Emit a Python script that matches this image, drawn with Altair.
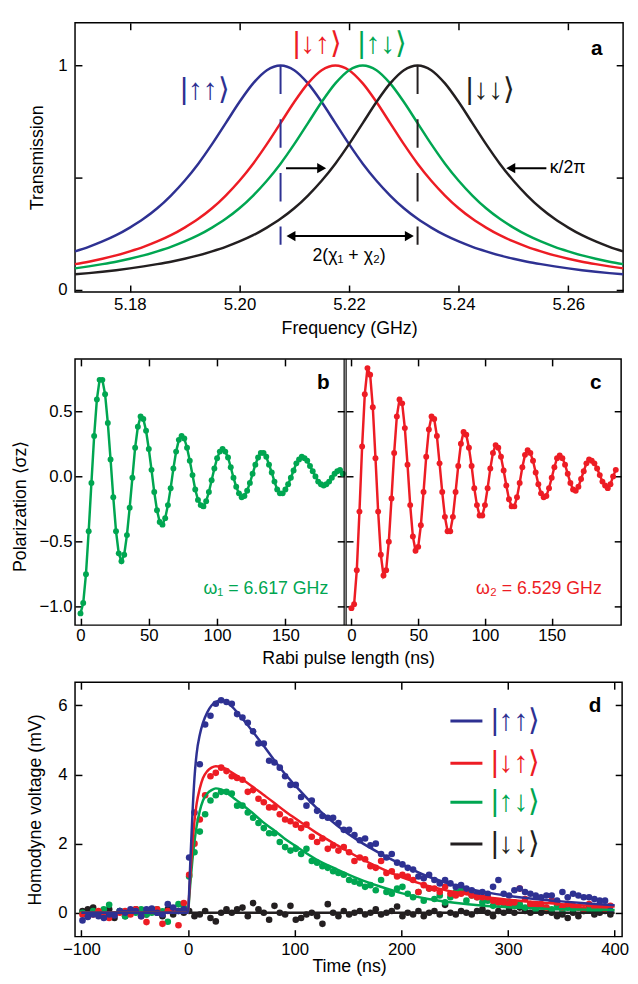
import altair as alt
import pandas as pd

BLUE, RED, GREEN, BLACK = "#2e3192", "#ed1c24", "#00a651", "#231f20"
FONT = "Liberation Sans"
KET_FONT = "Liberation Sans"
TICK = 7

KETS = ["|↑↑⟩", "|↓↑⟩", "|↑↓⟩", "|↓↓⟩"]
COLORS = [BLUE, RED, GREEN, BLACK]

# ---------------- panel a : transmission spectra ----------------
FREQ = [5.17, 5.1725, 5.175, 5.1775, 5.18, 5.1825, 5.185, 5.1875, 5.19, 5.1925,
        5.195, 5.1975, 5.2, 5.2025, 5.205, 5.2075, 5.21, 5.2125, 5.215, 5.2175,
        5.22, 5.2225, 5.225, 5.2275, 5.23, 5.2325, 5.235, 5.2375, 5.24, 5.2425,
        5.245, 5.2475, 5.25, 5.2525, 5.255, 5.2575, 5.26, 5.2625, 5.265, 5.2675, 5.27]
TR_UU = [0.171, 0.191, 0.215, 0.243, 0.277, 0.316, 0.363, 0.420, 0.486, 0.562, 0.649,
         0.743, 0.837, 0.920, 0.979, 1.000, 0.979, 0.920, 0.837, 0.743, 0.649, 0.562,
         0.486, 0.420, 0.363, 0.316, 0.277, 0.243, 0.215, 0.191, 0.171, 0.153, 0.138,
         0.125, 0.114, 0.104, 0.095, 0.087, 0.080, 0.074, 0.069]
TR_DU = [0.114, 0.125, 0.138, 0.153, 0.171, 0.191, 0.215, 0.243, 0.277, 0.316, 0.363,
         0.420, 0.486, 0.562, 0.649, 0.743, 0.837, 0.920, 0.979, 1.000, 0.979, 0.920,
         0.837, 0.743, 0.649, 0.562, 0.486, 0.420, 0.363, 0.316, 0.277, 0.243, 0.215,
         0.191, 0.171, 0.153, 0.138, 0.125, 0.114, 0.104, 0.095]
TR_UD = [0.095, 0.104, 0.114, 0.125, 0.138, 0.153, 0.171, 0.191, 0.215, 0.243, 0.277,
         0.316, 0.363, 0.420, 0.486, 0.562, 0.649, 0.743, 0.837, 0.920, 0.979, 1.000,
         0.979, 0.920, 0.837, 0.743, 0.649, 0.562, 0.486, 0.420, 0.363, 0.316, 0.277,
         0.243, 0.215, 0.191, 0.171, 0.153, 0.138, 0.125, 0.114]
TR_DD = [0.069, 0.074, 0.080, 0.087, 0.095, 0.104, 0.114, 0.125, 0.138, 0.153, 0.171,
         0.191, 0.215, 0.243, 0.277, 0.316, 0.363, 0.420, 0.486, 0.562, 0.649, 0.743,
         0.837, 0.920, 0.979, 1.000, 0.979, 0.920, 0.837, 0.743, 0.649, 0.562, 0.486,
         0.420, 0.363, 0.316, 0.277, 0.243, 0.215, 0.191, 0.171]
A_XTICKS = [5.18, 5.20, 5.22, 5.24, 5.26]
A_YTICKS = [0, 0.5, 1]
A_KET_X = [5.1937, 5.2142, 5.2261, 5.2458]
A_KET_Y = [0.89, 1.093, 1.093, 0.89]
A_DASH_X = [5.2075, 5.2325]
A_DASH_TOP = [1.0, 1.0]
A_DASH_BOT = [0.2, 0.2]
A_DASH_COL = [BLUE, BLACK]
A_ARROW_X1 = [5.2085, 5.2495, 5.2094]
A_ARROW_X2 = [5.2150, 5.2560, 5.2310]
A_ARROW_Y = [0.542, 0.542, 0.239]
A_HEAD_X = [5.2150, 5.2495, 5.2094, 5.2310]
A_HEAD_Y = [0.542, 0.542, 0.239, 0.239]
A_HEAD_SHAPE = ["triangle-right", "triangle-left", "triangle-left", "triangle-right"]

# ---------------- panels b, c : Rabi oscillations ----------------
RABI_T1 = [0, 2, 4, 6, 8, 10, 12, 14, 16, 18, 20, 22, 24, 26, 28, 30, 32, 34, 36, 38,
           40, 42, 44, 46, 48, 50, 52, 54, 56, 58, 60, 62, 64, 66, 68, 70, 72, 74, 76, 78,
           80, 82, 84, 86, 88, 90, 92, 94, 96, 98, 100, 102, 104, 106, 108, 110, 112, 114,
           116, 118, 120, 122, 124, 126, 128, 130, 132, 134, 136, 138, 140, 142, 144, 146,
           148, 150, 152, 154, 156, 158, 160, 162, 164, 166, 168, 170, 172, 174, 176, 178,
           180, 182, 184, 186, 188, 190, 192]
POL1 = [-1.05, -0.97, -0.75, -0.42, -0.05, 0.31, 0.59, 0.74, 0.74, 0.63, 0.41, 0.13,
        -0.16, -0.42, -0.59, -0.65, -0.60, -0.45, -0.24, -0.01, 0.22, 0.38, 0.46, 0.44,
        0.35, 0.21, 0.05, -0.12, -0.26, -0.35, -0.37, -0.32, -0.22, -0.09, 0.06, 0.19,
        0.28, 0.31, 0.29, 0.22, 0.12, 0.01, -0.10, -0.18, -0.22, -0.23, -0.19, -0.12,
        -0.03, 0.06, 0.14, 0.19, 0.21, 0.19, 0.145, 0.07, -0.01, -0.08, -0.13, -0.16,
        -0.15, -0.11, -0.05, 0.02, 0.09, 0.145, 0.18, 0.18, 0.15, 0.09, 0.03, -0.04,
        -0.10, -0.13, -0.13, -0.10, -0.06, -0.01, 0.045, 0.10, 0.13, 0.15, 0.14, 0.12,
        0.08, 0.04, 0.00, -0.04, -0.06, -0.07, -0.06, -0.04, -0.01, 0.02, 0.04, 0.05, 0.02]
RABI_T2 = [0, 2, 4, 6, 8, 10, 12, 14, 16, 18, 20, 22, 24, 26, 28, 30, 32, 34, 36, 38,
           40, 42, 44, 46, 48, 50, 52, 54, 56, 58, 60, 62, 64, 66, 68, 70, 72, 74, 76, 78,
           80, 82, 84, 86, 88, 90, 92, 94, 96, 98, 100, 102, 104, 106, 108, 110, 112, 114,
           116, 118, 120, 122, 124, 126, 128, 130, 132, 134, 136, 138, 140, 142, 144, 146,
           148, 150, 152, 154, 156, 158, 160, 162, 164, 166, 168, 170, 172, 174, 176, 178,
           180, 182, 184, 186, 188, 190, 192, 194, 196, 198]
POL2 = [-1.01, -0.98, -0.72, -0.27, 0.23, 0.63, 0.83, 0.78, 0.53, 0.14, -0.27, -0.60,
        -0.76, -0.72, -0.50, -0.17, 0.18, 0.46, 0.59, 0.56, 0.37, 0.09, -0.22, -0.46,
        -0.57, -0.54, -0.375, -0.12, 0.15, 0.36, 0.46, 0.44, 0.31, 0.10, -0.12, -0.31,
        -0.42, -0.42, -0.31, -0.12, 0.08, 0.25, 0.34, 0.32, 0.22, 0.08, -0.09, -0.22,
        -0.30, -0.30, -0.22, -0.09, 0.06, 0.18, 0.24, 0.22, 0.15, 0.045, -0.07, -0.175,
        -0.23, -0.23, -0.16, -0.05, 0.07, 0.165, 0.20, 0.18, 0.12, 0.03, -0.06, -0.13,
        -0.16, -0.15, -0.09, -0.01, 0.07, 0.14, 0.16, 0.14, 0.09, 0.02, -0.05, -0.10,
        -0.11, -0.08, -0.02, 0.04, 0.10, 0.13, 0.12, 0.10, 0.06, 0.01, -0.04, -0.07,
        -0.09, -0.06, 0.00, 0.05]
BC_XTICKS = [0, 50, 100, 150]
BC_YTICKS = [-1.0, -0.5, 0.0, 0.5]

# ---------------- panel d : homodyne voltage ----------------
TIME = [-99, -94, -89, -84, -79, -74, -69, -64, -59, -54, -49, -44, -39, -34, -29, -24,
        -19, -14, -9, -4, 1, 6, 11, 16, 21, 26, 31, 36, 41, 46, 51, 56, 61, 66, 71, 76,
        81, 86, 91, 96, 101, 106, 111, 116, 121, 126, 131, 136, 141, 146, 151, 156, 161,
        166, 171, 176, 181, 186, 191, 196, 201, 206, 211, 216, 221, 226, 231, 236, 241,
        246, 251, 256, 261, 266, 271, 276, 281, 286, 291, 296, 301, 306, 311, 316, 321,
        326, 331, 336, 341, 346, 351, 356, 361, 366, 371, 376, 381, 386, 391, 396]
V_UU = [-0.22, -0.12, -0.05, -0.1, -0.15, -0.05, -0.08, 0.05, 0.0, 0.1, 0.05, -0.1, 0.1,
        0.12, 0.0, -0.05, 0.25, 0.15, 0.05, 0.1,
        1.6, 2.9, 4.3, 5.45, 5.7, 6.05, 6.15, 6.1, 6.05, 5.75, 5.65, 5.5, 5.25, 4.9, 4.9,
        4.4, 4.35, 4.2, 3.95, 3.7, 3.7, 3.35, 3.1, 3.25, 2.95, 2.8, 2.75, 2.75, 2.6, 2.4,
        2.4, 2.25, 2.1, 2.15, 1.95, 2.0, 1.7, 1.6, 1.7, 1.45, 1.4, 1.3, 1.25, 1.05, 1.0,
        1.1, 0.95, 0.85, 0.95, 0.85, 0.75, 0.8, 0.7, 0.65, 0.55, 0.6, 0.55, 0.75, 0.95,
        0.55, 0.5, 0.65, 0.7, 0.6, 0.55, 0.5, 0.45, 0.5, 0.5, 0.35, 0.6, 0.45, 0.55, 0.5,
        0.45, 0.45, 0.4, 0.35, 0.35, 0.06]
V_DU = [-0.05, -0.1, -0.05, 0.05, -0.1, -0.15, -0.05, 0.0, 0.05, -0.05, 0.1, -0.1, -0.27,
        0.05, 0.1, -0.32, 0.05, 0.1, -0.36, 0.28,
        1.1, 2.0, 2.7, 3.4, 3.95, 4.05, 4.2, 4.1, 3.95, 3.9, 3.85, 3.5, 3.55, 3.3, 3.2,
        3.05, 3.05, 2.85, 2.7, 2.65, 2.55, 2.45, 2.55, 2.2, 2.05, 2.15, 1.85, 1.95, 1.8,
        1.9, 1.75, 1.5, 1.6, 1.55, 1.35, 1.3, 1.5, 1.15, 1.2, 1.05, 1.1, 1.05, 0.95, 0.6,
        0.8, 0.7, 0.7, 0.6, 0.75, 0.55, 0.5, 0.55, 0.6, 0.5, 0.45, 0.45, 0.45, 0.35, 0.3,
        0.3, 0.25, 0.3, 0.7, 0.4, 0.25, 0.2, 0.25, 0.15, 0.35, 0.3, 0.15, 0.25, 0.2, 0.15,
        0.1, 0.25, 0.15, 0.2, 0.1, 0.2]
V_UD = [0.0, -0.05, 0.05, 0.0, 0.1, 0.23, -0.05, 0.05, -0.1, 0.05, 0.0, 0.1, -0.05, 0.0,
        0.1, 0.04, -0.26, 0.1, 0.25, 0.15,
        1.05, 1.75, 2.35, 2.85, 3.25, 3.4, 3.5, 3.5, 3.45, 3.1, 3.1, 2.9, 2.75, 2.6, 2.45,
        2.3, 2.3, 2.05, 1.9, 1.8, 1.85, 1.7, 1.85, 1.5, 1.45, 1.35, 1.3, 1.2, 1.15, 1.1,
        0.95, 0.9, 0.85, 0.75, 0.8, 0.65, 0.95, 0.6, 0.55, 0.7, 0.75, 0.55, 0.45, 0.6,
        0.35, 0.7, 0.4, 0.5, 0.3, 0.45, 0.6, 0.65, 0.35, 0.5, 0.45, 0.3, 0.35, 0.2, 0.3,
        0.25, 0.3, 0.2, 0.25, 0.15, 0.25, 0.1, 0.2, 0.15, 0.1, 0.2, 0.05, 0.15, 0.1, 0.15,
        0.05, 0.1, 0.05, 0.1, 0.1, 0.05]
V_DD = [0.05, 0.1, 0.15, 0.0, -0.05, 0.1, -0.15, 0.05, -0.1, 0.05, 0.1, 0.0, -0.05, 0.05,
        0.0, -0.1, 0.1, -0.05, 0.05, 0.0,
        0.05, -0.1, -0.05, 0.05, -0.15, -0.25, 0.0, 0.1, 0.0, 0.1, 0.15, -0.1, 0.28, 0.1,
        0.0, -0.2, 0.2, 0.0, -0.05, 0.2, -0.2, -0.15, -0.05, 0.0, -0.1, -0.32, 0.25, 0.0,
        -0.1, 0.05, -0.05, 0.0, 0.05, -0.05, 0.0, 0.1, -0.05, 0.0, 0.05, 0.18, -0.1, 0.0,
        -0.05, 0.05, -0.1, 0.0, 0.05, -0.05, 0.23, 0.0, -0.05, 0.05, 0.0, -0.05, 0.05,
        0.1, 0.0, -0.1, 0.05, 0.0, 0.1, 0.0, 0.15, 0.05, 0.0, 0.1, 0.0, 0.05, 0.0, -0.1,
        -0.05, -0.15, 0.0, -0.1, 0.05, 0.2, -0.05, 0.0, 0.05, -0.05]
FIT_T = [-100, 0, 1, 2, 4, 6, 8, 11, 14, 18, 22, 26, 30, 35, 40, 50, 60, 70, 80, 90, 100,
         120, 140, 160, 180, 200, 225, 250, 275, 300, 325, 350, 375, 400]
FIT_UU = [0, 0, 0.6, 1.4, 2.8, 3.9, 4.6, 5.15, 5.5, 5.8, 6.0, 6.1, 6.15, 6.12, 6.0, 5.65,
          5.27, 4.87, 4.45, 4.05, 3.7, 3.05, 2.52, 2.08, 1.72, 1.4, 1.05, 0.8, 0.62, 0.49,
          0.4, 0.33, 0.27, 0.22]
FIT_DU = [0, 0, 0.5, 1.0, 1.95, 2.65, 3.15, 3.6, 3.9, 4.1, 4.2, 4.24, 4.23, 4.17, 4.08,
          3.88, 3.66, 3.43, 3.2, 2.96, 2.74, 2.32, 1.95, 1.6, 1.3, 1.03, 0.78, 0.6, 0.47,
          0.38, 0.31, 0.25, 0.21, 0.18]
FIT_UD = [0, 0, 0.4, 0.8, 1.5, 2.05, 2.5, 2.95, 3.25, 3.45, 3.55, 3.6, 3.58, 3.5, 3.39,
          3.15, 2.9, 2.63, 2.4, 2.16, 1.95, 1.55, 1.25, 0.98, 0.76, 0.57, 0.4, 0.29, 0.21,
          0.16, 0.13, 0.1, 0.09, 0.08]
FIT_DD = [0] * 34
D_XTICKS = [-100, 0, 100, 200, 300, 400]
D_YTICKS = [0, 2, 4, 6]
LEG_X1, LEG_X2, LEG_TX = 246, 276, 284
LEG_Y = [5.55, 4.33, 3.2, 1.99]


def sc(dom, rng=None):
    if rng is None:
        return alt.Scale(domain=dom, nice=False, zero=False)
    return alt.Scale(domain=dom, range=rng, nice=False, zero=False)


def ax(orient, values, labels=True, title=None, offset=-TICK, **kw):
    d = dict(orient=orient, values=values, offset=offset, tickSize=TICK, domain=False,
             grid=False, labels=labels, ticks=True, title=title)
    d.update(kw)
    return alt.Axis(**d)


def txt(x, y, t, xs, ys, font=FONT, **mk):
    return alt.Chart(pd.DataFrame({"x": [x], "y": [y], "t": [t]})).mark_text(
        baseline="middle", font=font, **mk).encode(
        x=alt.X("x:Q", scale=xs, axis=None), y=alt.Y("y:Q", scale=ys, axis=None), text="t:N")


# ---------- panel a ----------
xa, ya = sc([5.17, 5.27]), sc([-0.01, 1.19])
dfa = pd.DataFrame({
    "f": FREQ * 4,
    "T": TR_UU + TR_DU + TR_UD + TR_DD,
    "s": sum([[k] * len(FREQ) for k in KETS], []),
})
ccol = alt.Color("s:N", scale=alt.Scale(domain=KETS, range=COLORS), legend=None)
a_lines = alt.Chart(dfa).mark_line(strokeWidth=2.5, interpolate="monotone").encode(
    x=alt.X("f:Q", scale=xa, axis=ax("bottom", A_XTICKS, title="Frequency (GHz)", format=".2f",
                                      labelPadding=5, titleX=278, titleY=44,
                                      titleBaseline="middle", titleAlign="center")),
    y=alt.Y("T:Q", scale=ya, axis=ax("left", A_YTICKS, title="Transmission", format="~g",
                                      labelExpr="datum.value == 0.5 ? '' : datum.label",
                                      labelPadding=8, titleX=-45, titleY=136.5, titleAngle=270,
                                      titleBaseline="middle", titleAlign="center")),
    color=ccol,
)
a_dash = alt.Chart(pd.DataFrame({"x": A_DASH_X, "y": A_DASH_TOP, "y2": A_DASH_BOT,
                                 "c": A_DASH_COL})).mark_rule(strokeWidth=2, strokeDash=[29, 25.5]).encode(
    x=alt.X("x:Q", scale=xa, axis=None), y=alt.Y("y:Q", scale=ya, axis=None), y2="y2:Q",
    color=alt.Color("c:N", scale=None))
a_arrows = alt.Chart(pd.DataFrame({"x": A_ARROW_X1, "x2": A_ARROW_X2, "y": A_ARROW_Y})).mark_rule(
    strokeWidth=2, color="black").encode(
    x=alt.X("x:Q", scale=xa, axis=None), x2="x2:Q", y=alt.Y("y:Q", scale=ya, axis=None))
a_heads = alt.Chart(pd.DataFrame({"x": A_HEAD_X, "y": A_HEAD_Y, "sh": A_HEAD_SHAPE})).mark_point(
    filled=True, size=110, color="black", opacity=1).encode(
    x=alt.X("x:Q", scale=xa, axis=None), y=alt.Y("y:Q", scale=ya, axis=None),
    shape=alt.Shape("sh:N", scale=None))
a_kets = alt.Chart(pd.DataFrame({"x": A_KET_X, "y": A_KET_Y, "t": KETS, "c": COLORS})).mark_text(
    fontSize=30, align="center", baseline="middle", font=KET_FONT).encode(
    x=alt.X("x:Q", scale=xa, axis=None), y=alt.Y("y:Q", scale=ya, axis=None), text="t:N",
    color=alt.Color("c:N", scale=None))
a_ticks = alt.Chart(dfa).mark_point(opacity=0).encode(
    x=alt.X("f:Q", scale=xa, axis=ax("top", A_XTICKS, labels=False)),
    y=alt.Y("T:Q", scale=ya, axis=ax("right", A_YTICKS, labels=False)))
panel_a = alt.layer(
    a_lines, a_dash, a_arrows, a_heads, a_kets,
    txt(5.2566, 0.542, "κ/2π", xa, ya, fontSize=18, align="left", color="black"),
    txt(5.2200, 0.150, "2(χ₁ + χ₂)", xa, ya, fontSize=18, align="center", color="black"),
    txt(5.2652, 1.075, "a", xa, ya, fontSize=21, fontWeight="bold", align="center", color="black"),
    a_ticks,
).resolve_axis(x="independent", y="independent").properties(width=556, height=273)

# ---------- panels b + c (one view, two x scales) ----------
BW, CX0, BCW = 273, 275, 554
xb = sc([-4, 193], [0, BW])
xc = sc([-4, 202], [CX0, BCW])
ybc = sc([-1.14, 0.9])
dfb = pd.DataFrame({"t": RABI_T1, "v": POL1})
dfc = pd.DataFrame({"t": RABI_T2, "v": POL2})

b_line = alt.Chart(dfb).mark_line(strokeWidth=2.5, color=GREEN).encode(
    x=alt.X("t:Q", scale=xb, axis=ax("bottom", BC_XTICKS, title="Rabi pulse length (ns)",
                                      labelPadding=3, titleX=277, titleY=41,
                                      titleBaseline="middle", titleAlign="center")),
    y=alt.Y("v:Q", scale=ybc, axis=ax("left", BC_YTICKS, title="Polarization ⟨σz⟩", format=".1f",
                                       labelPadding=3, titleX=-62, titleY=149, titleAngle=270,
                                       titleBaseline="middle", titleAlign="center")))
b_dots = alt.Chart(dfb).mark_circle(size=36, color=GREEN, opacity=1).encode(
    x=alt.X("t:Q", scale=xb, axis=None), y=alt.Y("v:Q", scale=ybc, axis=None))
b_ticks = alt.Chart(dfb).mark_point(opacity=0).encode(
    x=alt.X("t:Q", scale=xb, axis=ax("top", BC_XTICKS, labels=False)),
    y=alt.Y("v:Q", scale=ybc, axis=ax("right", BC_YTICKS, labels=False, offset=-(BCW - BW) - TICK)))
c_line = alt.Chart(dfc).mark_line(strokeWidth=2.5, color=RED).encode(
    x=alt.X("t:Q", scale=xc, axis=ax("bottom", BC_XTICKS, labelPadding=3)),
    y=alt.Y("v:Q", scale=ybc, axis=ax("left", BC_YTICKS, labels=False, offset=-CX0 - TICK)))
c_dots = alt.Chart(dfc).mark_circle(size=36, color=RED, opacity=1).encode(
    x=alt.X("t:Q", scale=xc, axis=None), y=alt.Y("v:Q", scale=ybc, axis=None))
c_ticks = alt.Chart(dfc).mark_point(opacity=0).encode(
    x=alt.X("t:Q", scale=xc, axis=ax("top", BC_XTICKS, labels=False)),
    y=alt.Y("v:Q", scale=ybc, axis=ax("right", BC_YTICKS, labels=False)))
b_edge = alt.Chart(pd.DataFrame({"x": [193], "y": [-1.14], "y2": [0.9]})).mark_rule(
    strokeWidth=1.2, color="black").encode(
    x=alt.X("x:Q", scale=xb, axis=None), y=alt.Y("y:Q", scale=ybc, axis=None), y2="y2:Q")
c_edge = alt.Chart(pd.DataFrame({"x": [-4], "y": [-1.14], "y2": [0.9]})).mark_rule(
    strokeWidth=1.2, color="black").encode(
    x=alt.X("x:Q", scale=xc, axis=None), y=alt.Y("y:Q", scale=ybc, axis=None), y2="y2:Q")
panel_bc = alt.layer(
    b_line, b_dots,
    txt(177.8, 0.716, "b", xb, ybc, fontSize=21, fontWeight="bold", align="center", color="black"),
    txt(181.4, -0.867, "ω₁ = 6.617 GHz", xb, ybc, fontSize=18, align="right", color=GREEN),
    b_ticks, b_edge,
    c_line, c_dots,
    txt(183.0, 0.716, "c", xc, ybc, fontSize=21, fontWeight="bold", align="center", color="black"),
    txt(187.5, -0.867, "ω₂ = 6.529 GHz", xc, ybc, fontSize=18, align="right", color=RED),
    c_ticks, c_edge,
).resolve_scale(x="independent").resolve_axis(x="independent", y="independent").properties(
    width=BCW, height=270)

# ---------- panel d ----------
xd, yd = sc([-106, 407]), sc([-0.69, 6.67])
ORDER_D = [KETS[3], KETS[2], KETS[1], KETS[0]]
dfd = pd.DataFrame({
    "t": TIME * 4,
    "v": V_DD + V_UD + V_DU + V_UU,
    "s": sum([[k] * len(TIME) for k in ORDER_D], []),
    "o": sum([[i] * len(TIME) for i in range(4)], []),
})
dff = pd.DataFrame({
    "t": FIT_T * 4,
    "v": FIT_DD + FIT_UD + FIT_DU + FIT_UU,
    "s": sum([[k] * len(FIT_T) for k in ORDER_D], []),
})
d_pts = alt.Chart(dfd).mark_circle(size=45, opacity=1).encode(
    x=alt.X("t:Q", scale=xd, axis=ax("bottom", D_XTICKS, title="Time (ns)", labelPadding=5,
                                      titleX=278, titleY=37, titleBaseline="middle", titleAlign="center")),
    y=alt.Y("v:Q", scale=yd, axis=ax("left", D_YTICKS, title="Homodyne voltage (mV)", labelPadding=8,
                                      titleX=-47, titleY=129, titleAngle=270,
                                      titleBaseline="middle", titleAlign="center")),
    color=ccol, order=alt.Order("o:Q"),
)
d_fit = alt.Chart(dff).mark_line(strokeWidth=2.5, interpolate="monotone", clip=True).encode(
    x=alt.X("t:Q", scale=xd, axis=None), y=alt.Y("v:Q", scale=yd, axis=None), color=ccol)
leg = pd.DataFrame({"x": [LEG_X1] * 4, "x2": [LEG_X2] * 4, "tx": [LEG_TX] * 4, "y": LEG_Y,
                    "t": KETS, "c": COLORS})
d_leg_l = alt.Chart(leg).mark_rule(strokeWidth=3).encode(
    x=alt.X("x:Q", scale=xd, axis=None), x2="x2:Q", y=alt.Y("y:Q", scale=yd, axis=None),
    color=alt.Color("c:N", scale=None))
d_leg_t = alt.Chart(leg).mark_text(fontSize=30, align="left", baseline="middle", font=KET_FONT).encode(
    x=alt.X("tx:Q", scale=xd, axis=None), y=alt.Y("y:Q", scale=yd, axis=None), text="t:N",
    color=alt.Color("c:N", scale=None))
d_ticks = alt.Chart(dfd).mark_point(opacity=0).encode(
    x=alt.X("t:Q", scale=xd, axis=ax("top", D_XTICKS, labels=False)),
    y=alt.Y("v:Q", scale=yd, axis=ax("right", D_YTICKS, labels=False)))
panel_d = alt.layer(
    d_pts, d_fit, d_leg_l, d_leg_t,
    txt(381.6, 5.98, "d", xd, yd, fontSize=21, fontWeight="bold", align="center", color="black"),
    d_ticks,
).resolve_axis(x="independent", y="independent").properties(width=555, height=258)

lower = alt.vconcat(panel_bc, panel_d, spacing=58, bounds="flush")
chart = alt.vconcat(panel_a, lower, spacing=68, bounds="flush").properties(
    padding={"left": 3, "top": 6, "right": 0, "bottom": 0}
).configure_axis(
    labelFont=FONT, titleFont=FONT, labelFontSize=17, titleFontSize=18, titleFontWeight="normal",
    labelColor="black", titleColor="black", tickColor="black", tickWidth=1.5,
).configure_view(stroke="black", strokeWidth=1.5).configure_text(font=FONT)

chart.save("out.html", embed_options={"renderer": "svg", "actions": False})
